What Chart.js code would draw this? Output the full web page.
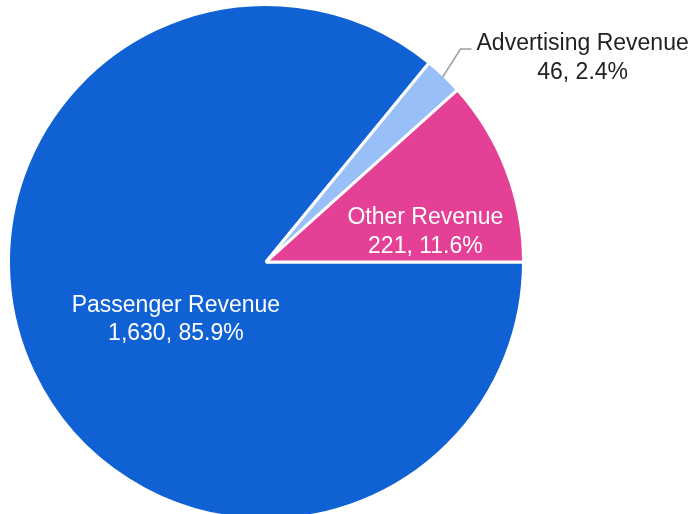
<!DOCTYPE html>
<html>
<head>
<meta charset="utf-8">
<script src="https://cdn.jsdelivr.net/npm/chart.js@4"></script>
<style>
  html, body { margin: 0; padding: 0; background: #fff; overflow: hidden; }
  #wrap { width: 699px; height: 520px; }
</style>
</head>
<body>
<div id="wrap"><canvas id="revenueChart" width="699" height="520"></canvas></div>
<script>
// Revenue split
const categories = ["Passenger Revenue", "Advertising Revenue", "Other Revenue"];
const revenueValues = [1630, 46, 221];
const sliceColors = ["#1061d4", "#98bff7", "#e44096"];

const FONT = '23px "Liberation Sans", Arial, sans-serif';
const LINE_GAP = 28.5;

// label placement per slice: inside ones sit at an offset from the centre
// (in radius units, dy = first baseline), the small slice gets a leader line
const labelPlacement = [
  { inside: true, dx: -0.35, dy: 0.194 },
  { inside: false },
  { inside: true, dx: 0.619, dy: -0.147 },
];

const total = revenueValues.reduce((a, b) => a + b, 0);

function labelLines(i) {
  let v = revenueValues[i];
  let pct = ((v / total) * 100).toFixed(1);
  return [categories[i], `${v.toLocaleString("en-US")}, ${pct}%`];
}

const sliceLabels = {
  id: "sliceLabels",
  afterDatasetsDraw(chart) {
    const ctx = chart.ctx;
    const arcs = chart.getDatasetMeta(0).data;
    ctx.save();
    ctx.font = FONT;
    ctx.textAlign = "center";
    ctx.textBaseline = "alphabetic";
    arcs.forEach((arc, i) => {
      const { x, y, outerRadius, startAngle, endAngle } = arc.getProps(
        ["x", "y", "outerRadius", "startAngle", "endAngle"],
        true
      );
      const lines = labelLines(i);
      const p = labelPlacement[i];
      if (p.inside) {
        let lx = x + p.dx * outerRadius;
        let ly = y + p.dy * outerRadius;
        ctx.fillStyle = "#ffffff";
        ctx.fillText(lines[0], lx, ly);
        ctx.fillText(lines[1], lx, ly + LINE_GAP);
      } else {
        const mid = (startAngle + endAngle) / 2;
        const ex = x + Math.cos(mid) * (outerRadius - 2);
        const ey = y + Math.sin(mid) * (outerRadius - 2);
        const kx = ex + 18;
        const ky = y - 213;
        ctx.strokeStyle = "#9e9e9e";
        ctx.lineWidth = 1.5;
        ctx.beginPath();
        ctx.moveTo(ex, ey);
        ctx.lineTo(kx, ky);
        ctx.lineTo(kx + 11, ky);
        ctx.stroke();
        ctx.fillStyle = "#222222";
        const w = ctx.measureText(lines[0]).width;
        const cxText = kx + 16 + w / 2;
        ctx.fillText(lines[0], cxText, ky + 1);
        ctx.fillText(lines[1], cxText, ky + 1 + LINE_GAP);
      }
    });
    ctx.restore();
  },
};

new Chart(document.getElementById("revenueChart"), {
  type: "pie",
  data: {
    labels: categories,
    datasets: [
      {
        data: revenueValues,
        backgroundColor: sliceColors,
        borderColor: "#ffffff",
        borderWidth: 3,
      },
    ],
  },
  options: {
    responsive: false,
    animation: false,
    rotation: 90,
    radius: 257.5,
    layout: { padding: { left: 10, top: 6, right: 177, bottom: 2 } },
    plugins: {
      legend: { display: false },
      tooltip: { enabled: false },
    },
  },
  plugins: [sliceLabels],
});
</script>
</body>
</html>
